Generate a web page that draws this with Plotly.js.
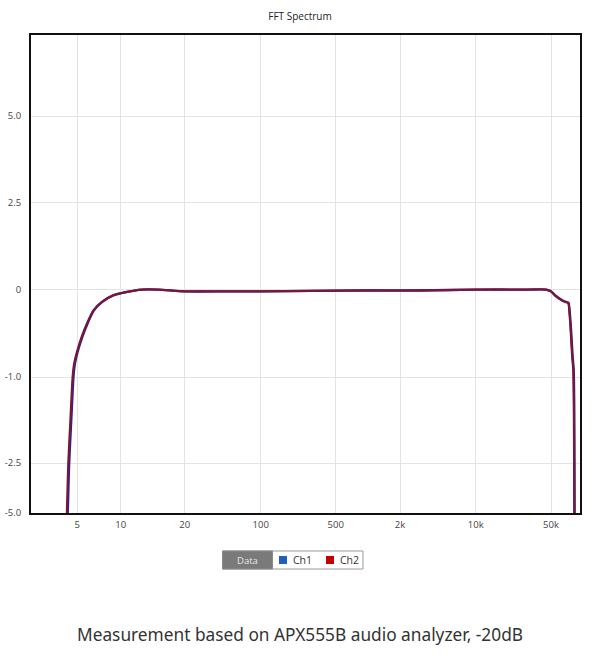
<!DOCTYPE html>
<html>
<head>
<meta charset="utf-8">
<script src="https://cdn.plot.ly/plotly-3.0.1.min.js"></script>
<style>
html,body{margin:0;padding:0;background:#ffffff;}
#chart{width:600px;height:658px;}
</style>
</head>
<body>
<div id="chart"></div>
<script>
// ---- data (frequency in Hz, level in dB) ----
const ch2Freq = [4.22, 4.27, 4.33, 4.48, 4.64, 4.75, 5.0, 5.36, 5.9, 6.45, 7.4, 8.85, 10.5, 12.6, 15, 20, 50, 100, 300, 1000, 3000, 10000, 30000, 45000, 50000, 55000, 62900, 68000, 72300, 74000, 76200, 78500, 80500, 81500, 82000, 82300];
const ch2Db   = [-5.3, -4.0, -2.5, -1.75, -1.0, -0.85, -0.7, -0.54, -0.37, -0.24, -0.14, -0.065, -0.03, 0.0, 0.0, -0.02, -0.02, -0.02, -0.015, -0.01, -0.01, 0.0, 0.0, 0.0, -0.02, -0.07, -0.12, -0.14, -0.15, -0.25, -0.47, -0.75, -0.92, -1.6, -3.0, -5.3];
const ch1Freq = [4.28, 4.33, 4.39, 4.54, 4.7, 4.81, 5.05, 5.42, 5.95, 6.5, 7.45, 8.9, 10.5, 12.6, 15, 20, 50, 100, 300, 1000, 3000, 10000, 30000, 45000, 50000, 55000, 62900, 68000, 72500, 74500, 76800, 79200, 81200, 82200, 82600, 82800];
const ch1Db   = [-5.3, -4.0, -2.5, -1.75, -1.0, -0.85, -0.7, -0.54, -0.37, -0.24, -0.14, -0.065, -0.03, 0.0, 0.0, -0.02, -0.02, -0.02, -0.015, -0.01, -0.01, 0.0, 0.0, 0.0, -0.02, -0.07, -0.12, -0.14, -0.15, -0.25, -0.47, -0.75, -0.92, -1.6, -3.0, -5.3];

// tick labels
const xTickHz    = [5, 10, 20, 100, 500, 2000, 10000, 50000];
const xTickText  = ['5', '10', '20', '100', '500', '2k', '10k', '50k'];
const yTickDb    = [5, 2.5, 0, -1, -2.5, -5];
const yTickText  = ['5.0', '2.5', '0', '-1.0', '-2.5', '-5.0'];
const seriesNames = ['Ch1', 'Ch2'];
const legendColors = ['#1f5fbf', '#c00000'];

// ---- axis scale (non-uniform, as in the reference analyser plot) ----
const xTickPos = [46.3, 89.7, 153.7, 229.7, 304.7, 369, 444.7, 520];
const yTickPos = [397, 310.4, 223.4, 136, 50, 0];

function interp(v, src, dst) {
  const n = src.length;
  const inc = src[n-1] > src[0];
  let i = 0;
  for (i = 0; i < n - 2; i++) {
    if (inc ? v <= src[i+1] : v >= src[i+1]) break;
  }
  const t = (v - src[i]) / (src[i+1] - src[i]);
  return dst[i] + t * (dst[i+1] - dst[i]);
}
const xLog = xTickHz.map(Math.log10);
function xScale(f) { return interp(Math.log10(f), xLog, xTickPos); }
function yScale(d) { return interp(d, yTickDb, yTickPos); }

const traces = [
  {x: ch1Freq.map(xScale), y: ch1Db.map(yScale), mode: 'lines', name: seriesNames[0],
   line: {color: '#2a1f9a', width: 2.4, shape: 'spline', smoothing: 0.6}, showlegend: false, hoverinfo: 'skip'},
  {x: ch2Freq.map(xScale), y: ch2Db.map(yScale), mode: 'lines', name: seriesNames[1],
   line: {color: '#7a1636', width: 2.2, shape: 'spline', smoothing: 0.6}, showlegend: false, hoverinfo: 'skip'}
];

// legend drawn in pixel positions converted to paper coords
const L = 31, T = 35, W = 549, H = 478;
const px = v => (v - L) / W;
const py = v => (T + H - v) / H;

const layout = {
  width: 600, height: 658,
  margin: {l: L, r: 600 - L - W, t: T, b: 658 - T - H},
  paper_bgcolor: '#ffffff', plot_bgcolor: '#ffffff',
  font: {family: 'Open Sans, Noto Sans, sans-serif', size: 9, color: '#333'},
  title: {text: 'FFT Spectrum', font: {size: 10, color: '#222'}, x: 0.5, xanchor: 'center', y: 0.975, yanchor: 'middle'},
  xaxis: {
    type: 'linear', range: [0, W], fixedrange: true,
    tickvals: xTickHz.map(xScale), ticktext: xTickText,
    showgrid: true, gridcolor: '#e3e3e3', gridwidth: 1,
    zeroline: false, showline: true, linecolor: '#111', linewidth: 2, mirror: true,
    ticks: '', tickfont: {size: 9.5, color: '#444'}, ticklabelstandoff: 2
  },
  yaxis: {
    type: 'linear', range: [0, H], fixedrange: true,
    tickvals: yTickDb.map(yScale), ticktext: yTickText,
    showgrid: true, gridcolor: '#e3e3e3', gridwidth: 1,
    zeroline: false, showline: true, linecolor: '#111', linewidth: 2, mirror: true,
    ticks: '', tickfont: {size: 9.5, color: '#444'}, ticklabelstandoff: 6
  },
  showlegend: false,
  shapes: [
    {type: 'rect', xref: 'paper', yref: 'paper', x0: px(222.5), x1: px(363), y0: py(551), y1: py(569),
     fillcolor: '#ffffff', line: {color: '#9a9a9a', width: 1}},
    {type: 'rect', xref: 'paper', yref: 'paper', x0: px(222.5), x1: px(272.5), y0: py(551), y1: py(569),
     fillcolor: '#7a7a7a', line: {color: '#8a8a8a', width: 1}},
    {type: 'rect', xref: 'paper', yref: 'paper', x0: px(279), x1: px(287), y0: py(556), y1: py(564),
     fillcolor: legendColors[0], line: {width: 0}},
    {type: 'rect', xref: 'paper', yref: 'paper', x0: px(326), x1: px(334), y0: py(556), y1: py(564),
     fillcolor: legendColors[1], line: {width: 0}}
  ],
  annotations: [
    {xref: 'paper', yref: 'paper', x: px(247.5), y: py(560), text: 'Data', showarrow: false,
     font: {size: 9.5, color: '#e8e8e8'}, xanchor: 'center', yanchor: 'middle'},
    {xref: 'paper', yref: 'paper', x: px(291), y: py(560), text: seriesNames[0], showarrow: false,
     font: {size: 10.5, color: '#333'}, xanchor: 'left', yanchor: 'middle'},
    {xref: 'paper', yref: 'paper', x: px(337.5), y: py(560), text: seriesNames[1], showarrow: false,
     font: {size: 10.5, color: '#333'}, xanchor: 'left', yanchor: 'middle'},
    {xref: 'paper', yref: 'paper', x: px(300), y: py(634), text: 'Measurement based on APX555B audio analyzer, -20dB',
     showarrow: false, font: {family: 'Noto Sans, Open Sans, sans-serif', size: 17.3, color: '#333'}, xanchor: 'center', yanchor: 'middle'}
  ]
};

Plotly.newPlot('chart', traces, layout, {displayModeBar: false, staticPlot: true});
</script>
</body>
</html>
